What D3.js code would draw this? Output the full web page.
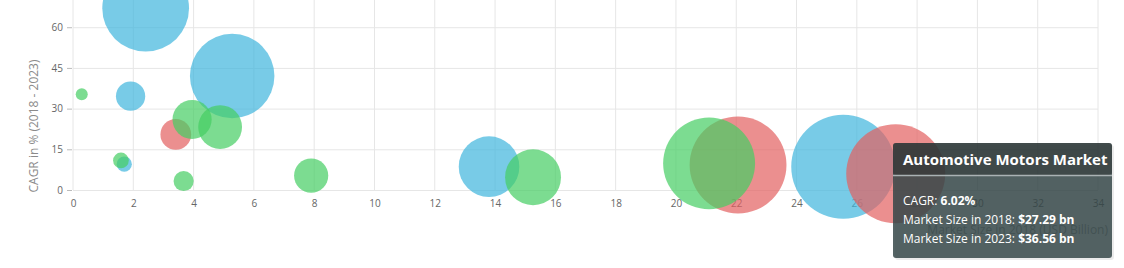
<!DOCTYPE html>
<html>
<head>
<meta charset="utf-8">
<script src="https://cdn.jsdelivr.net/npm/d3@7"></script>
<style>
  html, body { margin: 0; padding: 0; background: #fff; }
  svg { display: block; font-family: "Open Sans", sans-serif; }
</style>
</head>
<body>
<div class="app"></div>
<script>
/* eslint-disable no-undef */

// market size 2018 (x), CAGR % (y), market size 2023 (z) per series
const blueX = [2.41, 5.28, 1.91, 1.70, 13.80, 25.55]
const blueY = [67.0, 42.0, 34.6, 9.5, 8.6, 8.6]
const blueZ = [31.6, 30.7, 8.3, 2.6, 21.0, 38.6]

const redX = [3.41, 22.06, 27.29]
const redY = [20.5, 9.2, 6.02]
const redZ = [8.9, 35.7, 36.56]

const greenX = [0.29, 3.95, 4.88, 1.59, 3.67, 7.90, 15.26, 21.10]
const greenY = [35.3, 26.0, 23.2, 10.9, 3.3, 5.3, 4.7, 9.8]
const greenZ = [1.3, 12.3, 14.2, 2.8, 4.6, 10.3, 19.1, 33.7]

const xTicks = d3.range(0, 35, 2)
const yTicks = [0, 15, 30, 45, 60]

const yTitle = 'CAGR in % (2018 - 2023)'
const xTitle = 'Market Size in 2018 (USD Billion)'

const tipTitle = 'Automotive Motors Market'
const tipIndex = 2 // red series, third bubble

const main = () => {
  const width = 1124
  const height = 268
  const svg = d3.select('.app').append('svg').attr('width', width).attr('height', height)

  const x = d3.scaleLinear().domain([0, 34]).range([73, 1098])
  const y = d3.scaleLinear().domain([0, 70]).range([190, 0.1])
  const allZ = blueZ.concat(redZ, greenZ)
  const r = d3.scaleLinear().domain([d3.min(allZ), d3.max(allZ)]).range([6, 52])

  // grid
  const grid = svg.append('g')
  grid.selectAll('line.v').data(xTicks).enter().append('line')
    .attr('x1', d => x(d)).attr('x2', d => x(d))
    .attr('y1', 0).attr('y2', y(0))
    .attr('stroke', '#e6e6e6').attr('stroke-width', 1)
  grid.selectAll('line.h').data(yTicks).enter().append('line')
    .attr('x1', x(0)).attr('x2', x(34))
    .attr('y1', d => y(d) + 0.5).attr('y2', d => y(d) + 0.5)
    .attr('stroke', '#e6e6e6').attr('stroke-width', 1)

  // axes
  const xAxis = svg.append('g').attr('transform', `translate(0,${y(0) + 6})`)
    .call(d3.axisBottom(x).tickValues(xTicks).tickSize(0).tickPadding(4))
  xAxis.select('.domain').remove()
  xAxis.selectAll('text').attr('fill', '#666').style('font-size', '10px').style('font-family', 'Open Sans')

  const yAxis = svg.append('g').attr('transform', `translate(${x(0) - 1},0)`)
    .call(d3.axisLeft(y).tickValues(yTicks).tickSize(5).tickPadding(4))
  yAxis.select('.domain').remove()
  yAxis.selectAll('line').attr('stroke', '#bbb')
  yAxis.selectAll('text').attr('fill', '#666').style('font-size', '10px').style('font-family', 'Open Sans')

  svg.append('text')
    .attr('transform', 'translate(38,126) rotate(-90)')
    .attr('text-anchor', 'middle')
    .attr('fill', '#8a8a8a').style('font-size', '12px')
    .text(yTitle)

  svg.append('text')
    .attr('x', 1108).attr('y', 234)
    .attr('text-anchor', 'end')
    .attr('fill', '#999').style('font-size', '12px')
    .text(xTitle)

  // bubbles
  const series = [
    { xs: blueX, ys: blueY, zs: blueZ, color: '#3fb5dd' },
    { xs: redX, ys: redY, zs: redZ, color: '#e25f5f' },
    { xs: greenX, ys: greenY, zs: greenZ, color: '#45cd63' },
  ]
  series.forEach(s => {
    const pts = s.xs.map((v, i) => ({ x: v, y: s.ys[i], z: s.zs[i] }))
      .sort((a, b) => b.z - a.z)
    svg.append('g').selectAll('circle').data(pts).enter().append('circle')
      .attr('cx', d => x(d.x))
      .attr('cy', d => y(d.y))
      .attr('r', d => r(d.z))
      .attr('fill', s.color)
      .attr('fill-opacity', 0.7)
  })

  // tooltip
  const tx = 893
  const ty = 143
  const tw = 219
  const th = 115
  const tip = svg.append('g')
  tip.append('rect')
    .attr('x', tx + 2).attr('y', ty + 2).attr('width', tw).attr('height', th).attr('rx', 3)
    .attr('fill', '#000').attr('fill-opacity', 0.08)
  tip.append('rect')
    .attr('x', tx).attr('y', ty).attr('width', tw).attr('height', th).attr('rx', 3)
    .attr('fill', 'rgb(52,70,72)').attr('fill-opacity', 0.84)
  tip.append('rect')
    .attr('x', tx).attr('y', ty).attr('width', tw).attr('height', 32).attr('rx', 3)
    .attr('fill', 'rgb(30,28,30)').attr('fill-opacity', 0.35)
  tip.append('line')
    .attr('x1', tx).attr('x2', tx + tw).attr('y1', ty + 32.5).attr('y2', ty + 32.5)
    .attr('stroke', '#aab2b4').attr('stroke-width', 1.5)
  tip.append('text')
    .attr('x', tx + 10).attr('y', ty + 22)
    .attr('fill', '#fff').style('font-size', '15px').style('font-weight', 700)
    .text(tipTitle)

  const rows = [
    ['CAGR: ', `${redY[tipIndex].toFixed(2)}%`],
    ['Market Size in 2018: ', `$${redX[tipIndex].toFixed(2)} bn`],
    ['Market Size in 2023: ', `$${redZ[tipIndex].toFixed(2)} bn`],
  ]
  rows.forEach((row, i) => {
    const t = tip.append('text')
      .attr('x', tx + 10).attr('y', ty + 62 + i * 19)
      .attr('fill', '#fff').style('font-size', '12px')
    t.append('tspan').text(row[0])
    t.append('tspan').style('font-weight', 700).text(row[1])
  })
}

main()
</script>
</body>
</html>
